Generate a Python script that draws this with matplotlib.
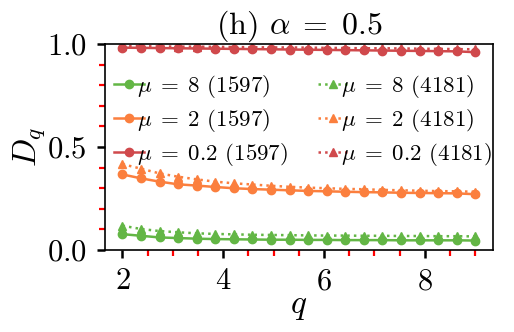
import numpy as np
import matplotlib
matplotlib.use("Agg")
import matplotlib.pyplot as plt
from matplotlib.ticker import MultipleLocator

plt.rcParams['font.family'] = 'serif'
plt.rcParams['font.serif'] = ['cmr10', 'DejaVu Serif']
plt.rcParams['mathtext.fontset'] = 'cm'
plt.rcParams['axes.formatter.use_mathtext'] = True

# ---- data ----
q = np.linspace(2, 9, 20)

mu8_1597 = [0.077, 0.069, 0.061, 0.058, 0.055, 0.053, 0.052, 0.051, 0.050, 0.050,
            0.049, 0.049, 0.048, 0.048, 0.048, 0.047, 0.047, 0.047, 0.047, 0.046]
mu8_4181 = [0.118, 0.102, 0.092, 0.086, 0.081, 0.078, 0.076, 0.074, 0.073, 0.072,
            0.071, 0.070, 0.070, 0.069, 0.069, 0.068, 0.068, 0.067, 0.067, 0.066]
mu2_1597 = [0.367, 0.348, 0.332, 0.319, 0.313, 0.306, 0.300, 0.296, 0.293, 0.290,
            0.287, 0.285, 0.283, 0.281, 0.280, 0.278, 0.277, 0.276, 0.275, 0.271]
mu2_4181 = [0.417, 0.395, 0.372, 0.356, 0.343, 0.332, 0.324, 0.318, 0.312, 0.307,
            0.303, 0.300, 0.297, 0.295, 0.292, 0.290, 0.288, 0.286, 0.285, 0.283]
mu02_1597 = [0.983, 0.982, 0.981, 0.980, 0.979, 0.978, 0.977, 0.976, 0.975, 0.974,
             0.973, 0.972, 0.971, 0.970, 0.969, 0.968, 0.967, 0.966, 0.965, 0.961]
mu02_4181 = [0.991, 0.990, 0.989, 0.988, 0.988, 0.987, 0.986, 0.985, 0.984, 0.984,
             0.983, 0.982, 0.981, 0.980, 0.980, 0.979, 0.978, 0.977, 0.976, 0.975]

c_green = '#63b645'
c_orange = '#fb7f3e'
c_red = '#d0494c'

fig = plt.figure(figsize=(5.14, 3.32), dpi=100)
ax = fig.add_axes([0.204, 0.247, 0.755, 0.62])

ax.plot(q, mu8_1597, '-o', color=c_green, lw=1.8, ms=6, label=r'$\mu\;=\;8$ (1597)')
ax.plot(q, mu2_1597, '-o', color=c_orange, lw=1.8, ms=6, label=r'$\mu\;=\;2$ (1597)')
ax.plot(q, mu02_1597, '-o', color=c_red, lw=1.8, ms=6, label=r'$\mu\;=\;0.2$ (1597)')
ax.plot(q, mu8_4181, ':^', color=c_green, lw=1.8, ms=6, label=r'$\mu\;=\;8$ (4181)')
ax.plot(q, mu2_4181, ':^', color=c_orange, lw=1.8, ms=6, label=r'$\mu\;=\;2$ (4181)')
ax.plot(q, mu02_4181, ':^', color=c_red, lw=1.8, ms=6, label=r'$\mu\;=\;0.2$ (4181)')

ax.set_ylim(0, 1)
ax.set_xlim(1.65, 9.35)
ax.xaxis.set_major_locator(MultipleLocator(2))
ax.xaxis.set_minor_locator(MultipleLocator(0.5))
ax.yaxis.set_major_locator(MultipleLocator(0.5))
ax.yaxis.set_minor_locator(MultipleLocator(0.1))
ax.tick_params(which='major', length=6, width=1.8, labelsize=22, color='black', pad=7)
ax.tick_params(which='minor', length=4, width=1.6, color='red')
for s in ax.spines.values():
    s.set_linewidth(1.2)

ax.set_xlabel(r'$q$', fontsize=24, labelpad=-2)
ax.set_ylabel(r'$D_q$', fontsize=24, labelpad=0)
ax.set_title(r'(h) $\alpha\;=\;0.5$', fontsize=23, pad=3)

ax.legend(ncol=2, loc='center left', bbox_to_anchor=(0.0, 0.63), fontsize=16.5,
          frameon=False, numpoints=1, handlelength=1.3, handletextpad=-0.3,
          labelspacing=0.3, columnspacing=1.3, borderaxespad=0.0)

fig.savefig('out.png', dpi=100)
